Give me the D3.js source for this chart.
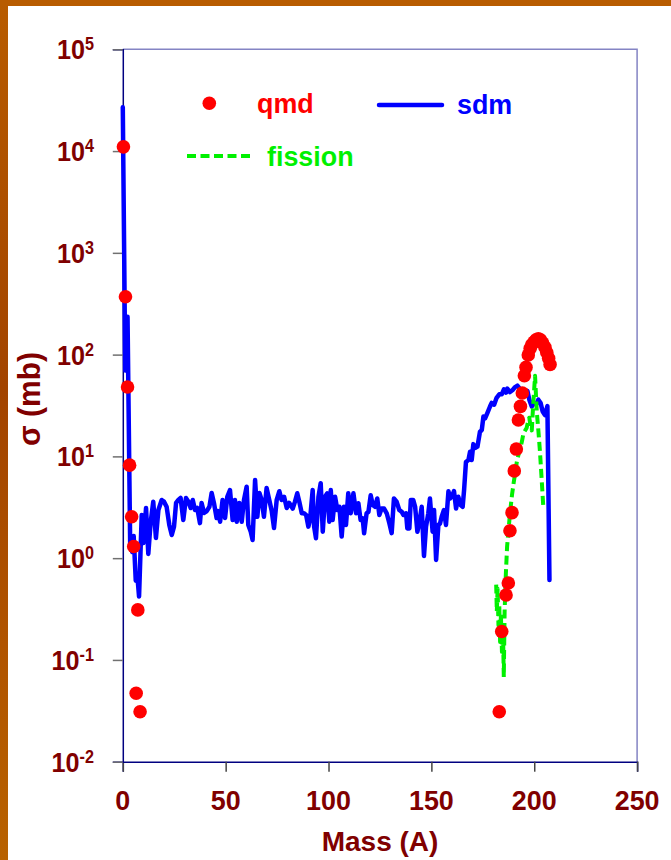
<!DOCTYPE html>
<html>
<head>
<meta charset="utf-8">
<script src="https://cdn.jsdelivr.net/npm/d3@7"></script>
<style>
  body { margin: 0; background: #fff; }
  svg { display: block; }
  text { font-family: "Liberation Sans", Arial, Helvetica, sans-serif; font-weight: bold; }
</style>
</head>
<body>
<div id="chart"></div>
<script>
// ---- data -------------------------------------------------------------
// QMD fragment cross sections (mass number, sigma in mb)
const qmdMass  = [0.3, 1.3, 2.3, 3.3, 4.3, 5.3, 6.5, 7.3, 8.4,
                  183.0, 184.2, 186.3, 187.4, 188.2, 189.2, 190.3, 191.3, 192.3, 193.3,
                  194.2, 195.2, 196.0, 197.1, 198.0, 198.8, 199.9, 200.9, 202.0, 203.0,
                  204.1, 205.2, 206.1, 207.0, 207.7];
const qmdSigma = [11000, 370, 48, 8.2, 2.55, 1.3, 0.047, 0.31, 0.031,
                  0.031, 0.19, 0.435, 0.57, 1.86, 2.8, 7.2, 11.8, 22.8, 31,
                  42, 62, 75, 99, 115, 125, 133, 140, 143, 140,
                  130, 118, 105, 92, 80];

// SDM curve
const sdmMass = [0, 1.2, 2.3, 3.6, 4.6, 5.3, 6.3, 7.0, 7.9, 9.2, 10.0, 11.3, 12.4, 13.5, 14.8,
  16.1, 17.3, 18.9, 20.0, 21.3, 22.6, 23.8, 24.9, 25.9, 27.0, 28.1, 29.4, 30.7, 31.9, 33.0,
  34.0, 35.1, 36.2, 37.5, 38.3, 39.5, 40.8, 42.1, 43.2, 44.3, 45.6, 46.4, 47.3, 48.5, 49.7,
  50.8, 52.1, 53.4, 54.5, 55.4, 56.6, 57.8, 58.9, 60.2, 61.0, 62.2, 63.1, 64.3, 65.4, 66.4,
  67.5, 68.6, 69.9, 71.2, 72.4, 73.5, 74.8, 76.1, 77.2, 78.4, 79.7, 80.9, 82.6, 83.7, 84.8,
  85.8, 87.0, 88.1, 89.1, 90.2, 91.0, 92.3, 93.0, 93.9, 95.1, 96.2, 97.2, 98.3, 99.4, 100.4,
  101.1, 102.0, 103.2, 104.3, 105.3, 106.4, 107.5, 108.5, 109.6, 110.8, 112.1, 113.4, 114.5, 115.6, 116.6,
  117.3, 118.5, 119.4, 120.5, 121.5, 122.6, 123.7, 124.7, 125.8, 127.0, 128.3, 129.6, 130.7, 131.8, 133.1,
  134.4, 135.6, 136.4, 137.7, 138.3, 139.3, 140.0, 141.2, 142.1, 143.2, 144.2, 145.3, 146.4, 147.4, 148.5,
  149.3, 150.6, 151.3, 152.3, 153.4, 154.2, 155.0, 156.1, 157.1, 158.3, 159.1, 159.9, 161.0, 162.0, 163.1,
  164.2, 165.2, 165.9, 166.8, 168.0, 168.8, 169.6, 170.4, 171.2, 172.4, 173.6, 174.5, 175.3, 176.1, 177.2,
  178.5, 179.3, 180.5, 181.7, 183.0, 184.2, 185.3, 186.3, 186.9, 188.2, 189.5, 190.7, 191.8, 193.1, 194.4,
  195.5, 196.7, 197.6, 198.8, 199.6, 200.9, 202.0, 203.1, 204.1, 205.2, 206.4, 207.4];
const sdmSigma = [27000, 70, 236, 1.3, 1.15, 1.65, 0.6, 0.7, 0.42, 2.66, 1.41, 3.11, 1.1, 2.21, 3.59,
  1.58, 2.97, 3.73, 3.59, 3.2, 2.12, 1.69, 2.04, 3.49, 3.73, 3.9, 2.37, 3.9, 3.59, 3.11,
  3.73, 2.97, 3.11, 2.21, 3.49, 2.78, 2.9, 3.2, 4.37, 3.49, 2.48, 2.9, 2.28, 3.73, 2.48,
  4.01, 4.67, 2.37, 3.73, 2.28, 3.49, 2.28, 3.73, 5.04, 2.12, 1.82, 1.51, 5.86, 2.55, 4.37,
  3.73, 2.55, 4.89, 3.73, 2.9, 1.98, 3.73, 4.55, 3.73, 4.01, 3.11, 3.49, 3.07, 3.59, 4.34,
  3.59, 2.76, 2.76, 2.66, 2.04, 2.37, 4.67, 2.04, 1.57, 4.01, 5.45, 1.82, 4.01, 4.34, 2.28,
  4.67, 2.37, 4.01, 2.97, 3.2, 1.63, 3.2, 2.12, 4.34, 2.76, 4.34, 2.76, 3.47, 2.37, 2.46,
  1.76, 2.76, 2.85, 4.15, 3.33, 3.2, 3.86, 2.66, 3.07, 3.07, 2.76, 2.19, 1.76, 3.86, 3.59,
  2.97, 2.85, 2.66, 2.76, 1.96, 1.96, 3.73, 3.73, 3.2, 1.82, 2.28, 3.2, 1.05, 2.04, 2.76,
  3.86, 1.82, 2.97, 0.96, 2.12, 2.19, 2.55, 2.97, 2.12, 4.55, 3.86, 4.01, 4.55, 3.07, 4.01,
  3.33, 3.2, 4.67, 8.8, 9.2, 11.1, 9.2, 13.2, 12.1, 12.5, 17.4, 18.2, 24.6, 23.6, 26.6,
  30.9, 33.5, 32.2, 37.6, 40.7, 40.7, 45.7, 42.3, 46.4, 42.9, 45.0, 48.0, 49.5, 45.7, 45.7,
  44.0, 44.0, 36.1, 30.9, 33.5, 32.2, 36.1, 33.5, 27.6, 25.5, 31.2, 0.61];

// Fission component
const fissionMass  = [181.5, 181.8, 182.2, 182.6, 183.0, 183.4, 183.8, 184.3, 184.8, 185.2,
  185.6, 186.2, 186.8, 187.6, 188.4, 189.2, 190.0, 190.8, 191.6, 192.4, 193.2, 194.0, 194.8,
  195.6, 196.3, 197.0, 197.6, 198.2, 198.8, 199.4, 200.4, 201.2, 202.0, 202.8, 203.6, 204.4];
const fissionSigma = [0.55, 0.3, 0.5, 0.22, 0.35, 0.15, 0.28, 0.12, 0.2, 0.068,
  0.3, 0.7, 1.3, 2.0, 3.0, 4.2, 5.5, 7, 9, 10.5, 12, 14, 17,
  18, 19, 22, 24, 20, 18, 30, 62, 28, 18, 11, 6, 3.2];

// axis ticks
const xTicks = [0, 50, 100, 150, 200, 250];
const yTickExponents = [-2, -1, 0, 1, 2, 3, 4, 5];

// ---- layout -----------------------------------------------------------
const W = 671, H = 860;
const plot = { left: 122.8, right: 637.1, top: 49.3, bottom: 761.7 };
const maroon = "#800000";
const sx = 0.96; // horizontal glyph squeeze for labels

const svg = d3.select("#chart").append("svg").attr("width", W).attr("height", H);

// slide frame
const defs = svg.append("defs");
const g1 = defs.append("linearGradient").attr("id", "frameGrad")
  .attr("x1", 0).attr("y1", 0).attr("x2", 0).attr("y2", 1);
g1.append("stop").attr("offset", "0%").attr("stop-color", "#b85c00");
g1.append("stop").attr("offset", "45%").attr("stop-color", "#a24400");
g1.append("stop").attr("offset", "75%").attr("stop-color", "#b05400");
g1.append("stop").attr("offset", "100%").attr("stop-color", "#b86200");
svg.append("rect").attr("width", W).attr("height", H).attr("fill", "url(#frameGrad)");
svg.append("rect").attr("x", 0).attr("y", 0).attr("width", W).attr("height", 6).attr("fill", "#b85c00");
svg.append("rect").attr("x", 8).attr("y", 6).attr("width", W - 8).attr("height", H - 6).attr("fill", "#ffffff");

const x = d3.scaleLinear().domain([0, 250]).range([plot.left, plot.right]);
const y = d3.scaleLog().domain([1e-2, 1e5]).range([plot.bottom, plot.top]);

function label(parent, px, py, str, size, color, anchor, squeeze) {
  const g = parent.append("g").attr("transform", `translate(${px},${py})`);
  return g.append("text")
    .attr("transform", `scale(${squeeze || sx},1)`)
    .attr("text-anchor", anchor || "start")
    .attr("font-size", size)
    .attr("fill", color)
    .text(str);
}

// plot frame: top & right edges
svg.append("path")
  .attr("d", `M${plot.left},${plot.top}H${plot.right}V${plot.bottom}`)
  .attr("fill", "none").attr("stroke", "#8484c4").attr("stroke-width", 1.5);

// axes
const xAxis = d3.axisBottom(x).tickValues(xTicks).tickSize(10).tickFormat("");
const gx = svg.append("g").attr("transform", `translate(0,${plot.bottom})`).call(xAxis);
gx.select(".domain").attr("stroke", "#000080").attr("stroke-width", 1.5);
gx.selectAll(".tick line").attr("stroke", "#444").attr("stroke-width", 1.5);

const yAxis = d3.axisLeft(y).tickValues(yTickExponents.map(e => Math.pow(10, e))).tickSize(10).tickFormat("");
const gy = svg.append("g").attr("transform", `translate(${plot.left},0)`).call(yAxis);
gy.select(".domain").attr("stroke", "#000080").attr("stroke-width", 1.5);
gy.selectAll(".tick line").attr("stroke", "#707070").attr("stroke-width", 1.5);

// x tick labels
xTicks.forEach(v => label(svg, x(v), 810, String(v), 28, maroon, "middle"));

// y tick labels: 10 with superscript exponent
yTickExponents.forEach(e => {
  const g = svg.append("g").attr("transform", `translate(94,${y(Math.pow(10, e)) + 10})`);
  const t = g.append("text").attr("transform", "scale(0.9,1)")
    .attr("text-anchor", "end").attr("fill", maroon);
  t.append("tspan").attr("font-size", 28).text("10");
  t.append("tspan").attr("font-size", 18).attr("dy", -9).text(String(e));
});

// axis titles
label(svg, 380, 851, "Mass (A)", 28, maroon, "middle", 1.0);
const yt = svg.append("g").attr("transform", `translate(40,399) rotate(-90)`);
yt.append("text").attr("transform", "scale(0.97,1)").attr("text-anchor", "middle")
  .attr("font-size", 31).attr("fill", maroon).text("σ (mb)");

// ---- series -----------------------------------------------------------
const sdm = sdmMass.map((m, i) => [m, sdmSigma[i]]);
const fission = fissionMass.map((m, i) => [m, fissionSigma[i]]);
const qmd = qmdMass.map((m, i) => [m, qmdSigma[i]]);

const line = d3.line().x(d => x(d[0])).y(d => y(d[1]));

svg.append("path").datum(sdm)
  .attr("d", line).attr("fill", "none")
  .attr("stroke", "#0000ff").attr("stroke-width", 4.5)
  .attr("stroke-linejoin", "round").attr("stroke-linecap", "round");

svg.append("path").datum(fission)
  .attr("d", line).attr("fill", "none")
  .attr("stroke", "#00f000").attr("stroke-width", 4)
  .attr("stroke-dasharray", "9,4.5").attr("stroke-linejoin", "round");

svg.append("g").selectAll("circle").data(qmd).join("circle")
  .attr("cx", d => x(d[0])).attr("cy", d => y(d[1])).attr("r", 6.8)
  .attr("fill", "#ff0000");

// ---- legend -----------------------------------------------------------
svg.append("circle").attr("cx", 209.3).attr("cy", 103.3).attr("r", 6.8).attr("fill", "#ff0000");
label(svg, 257, 113, "qmd", 28, "#ff0000");
svg.append("line").attr("x1", 379).attr("x2", 442).attr("y1", 105).attr("y2", 105)
  .attr("stroke", "#0000ff").attr("stroke-width", 4.5).attr("stroke-linecap", "round");
label(svg, 457, 114, "sdm", 28, "#0000ff");
svg.append("line").attr("x1", 187).attr("x2", 252).attr("y1", 156).attr("y2", 156)
  .attr("stroke", "#00f000").attr("stroke-width", 4).attr("stroke-dasharray", "9,4.5");
label(svg, 267, 166, "fission", 28, "#00f000");
</script>
</body>
</html>
